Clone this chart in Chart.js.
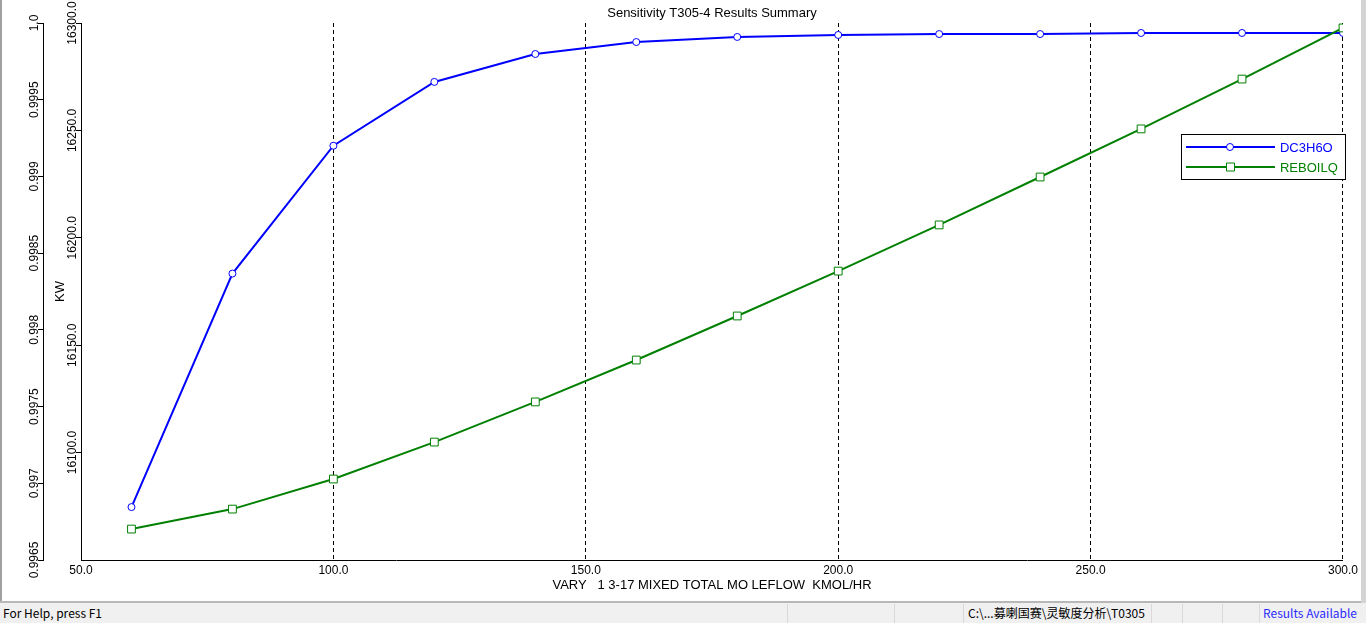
<!DOCTYPE html>
<html>
<head>
<meta charset="utf-8">
<script src="https://cdn.jsdelivr.net/npm/chart.js@4.4.0/dist/chart.umd.min.js"></script>
<style>
  html, body { margin: 0; padding: 0; width: 1366px; height: 623px; overflow: hidden; background: #f0f0f0; }
  #frame { position: absolute; left: 0; top: 0; width: 1361px; height: 601px; background: #fff; }
  #leftEdge { position: absolute; left: 0; top: 0; width: 2px; height: 602px; background: #a0a0a0; }
  #rightEdge { position: absolute; left: 1361px; top: 0; width: 5px; height: 603px; background: #d4d4d4; }
  #bottomEdge { position: absolute; left: 0; top: 601px; width: 1361px; height: 2px; background: #b8b8b8; }
  #status { position: absolute; left: 0; top: 603px; width: 1366px; height: 20px; background: #f0f0f0;
            font-family: "Noto Sans CJK SC", "Noto Sans", sans-serif; font-size: 12px; color: #000; }
  #status span { position: absolute; top: 1px; line-height: 18px; white-space: pre; }
  #status .sep { position: absolute; top: 1px; width: 1px; height: 19px; background: #d9d9d9; }
</style>
</head>
<body>
<div id="frame"><canvas id="chart" width="1361" height="601"></canvas></div>
<div id="leftEdge"></div>
<div id="rightEdge"></div>
<div id="bottomEdge"></div>
<div id="status">
  <span style="left:3px">For Help, press F1</span>
  <div class="sep" style="left:787px"></div>
  <div class="sep" style="left:894px"></div>
  <div class="sep" style="left:963px"></div>
  <span style="left:968px">C:\...募喇国赛\灵敏度分析\T0305</span>
  <div class="sep" style="left:1151px"></div>
  <div class="sep" style="left:1182px"></div>
  <div class="sep" style="left:1222px"></div>
  <div class="sep" style="left:1259px"></div>
  <span style="left:1263px; color:#2b2bff">Results Available</span>
</div>
<script>
/* DATA */
var flowValues   = [60, 80, 100, 120, 140, 160, 180, 200, 220, 240, 260, 280, 300];
var dc3h6oValues = [0.996845, 0.998367, 0.999200, 0.999616, 0.999798, 0.999876, 0.999909,
                    0.999922, 0.999928, 0.999928, 0.999935, 0.999935, 0.999935];
var reboilqValues = [16064.4, 16073.7, 16087.7, 16104.9, 16123.6, 16143.1, 16163.6,
                     16184.5, 16206.0, 16228.3, 16250.7, 16273.9, 16297.7];
var xTickValues  = [50, 100, 150, 200, 250, 300];
var xTickLabels  = ['50.0', '100.0', '150.0', '200.0', '250.0', '300.0'];
var y1TickValues = [0.9965, 0.997, 0.9975, 0.998, 0.9985, 0.999, 0.9995, 1.0];
var y1TickLabels = ['0.9965', '0.997', '0.9975', '0.998', '0.9985', '0.999', '0.9995', '1.0'];
var y2TickValues = [16100, 16150, 16200, 16250, 16300];
var y2TickLabels = ['16100.0', '16150.0', '16200.0', '16250.0', '16300.0'];

var FONT = "'Liberation Sans', Arial, sans-serif";
var BLUE = "#0000ff";
var GREEN = "#008000";
var TITLE = 'Sensitivity T305-4 Results Summary';

function toPoints(xs, ys){
  return xs.map(function(x, i){ return {x: x, y: ys[i]}; });
}
function setTicks(vals, labels){
  return function(scale){
    scale.ticks = vals.map(function(v, i){ return {value: v, label: labels[i]}; });
  };
}
function labelFrom(labels){
  return function(v, i){ return labels[i]; };
}

/* ROTATED Y TICK LABELS + TITLE OVER PLOT AREA */
var textPlugin = {
  id: 'extraText',
  afterDraw: function(chart){
    var ctx = chart.ctx;
    var area = chart.chartArea;
    ctx.save();
    ctx.fillStyle = "#000";
    ctx.textAlign = "center";
    ctx.textBaseline = "middle";
    ctx.font = "13px " + FONT;
    ctx.fillText(TITLE, (area.left + area.right) / 2, 13);
    ctx.font = "12px " + FONT;
    ['y1', 'y2'].forEach(function(id){
      var scale = chart.scales[id];
      scale.ticks.forEach(function(t){
        var y = scale.getPixelForValue(t.value);
        ctx.save();
        ctx.translate(scale.right - 8, y);
        ctx.rotate(-Math.PI / 2);
        ctx.fillText(t.label, 0, 0);
        ctx.restore();
      });
    });
    ctx.restore();
  }
};

/* LEGEND BOX */
var legendPlugin = {
  id: 'boxLegend',
  afterDraw: function(chart){
    var ctx = chart.ctx;
    var area = chart.chartArea;
    var bx = area.right - 162, by = 134, bw = 164, bh = 45;
    ctx.save();
    ctx.fillStyle = "#fff";
    ctx.fillRect(bx, by, bw, bh);
    ctx.strokeStyle = "#000";
    ctx.lineWidth = 1;
    ctx.strokeRect(bx + 0.5, by + 0.5, bw, bh);
    var rows = [chart.data.datasets[0], chart.data.datasets[1]];
    rows.forEach(function(ds, i){
      var y = by + 13 + i * 20;
      ctx.strokeStyle = ds.borderColor;
      ctx.lineWidth = 2;
      ctx.beginPath();
      ctx.moveTo(bx + 5, y);
      ctx.lineTo(bx + 94, y);
      ctx.stroke();
      ctx.lineWidth = 1;
      ctx.fillStyle = "#fff";
      ctx.beginPath();
      if (ds.pointStyle === 'rect') {
        ctx.rect(bx + 45.5, y - 4, 8, 8);
      } else {
        ctx.arc(bx + 49, y, 3.5, 0, Math.PI * 2);
      }
      ctx.fill();
      ctx.stroke();
      ctx.fillStyle = ds.borderColor;
      ctx.font = "13px " + FONT;
      ctx.textAlign = "left";
      ctx.textBaseline = "middle";
      ctx.fillText(ds.label, bx + 99, y + 1);
    });
    ctx.restore();
  }
};

new Chart(document.getElementById('chart'), {
  type: 'line',
  data: {
    datasets: [{
      label: 'DC3H6O',
      data: toPoints(flowValues, dc3h6oValues),
      yAxisID: 'y1',
      borderColor: BLUE,
      backgroundColor: "#fff",
      borderWidth: 2,
      pointStyle: 'circle',
      pointRadius: 3.5,
      pointBorderWidth: 1,
      tension: 0,
      order: 1
    }, {
      label: 'REBOILQ',
      data: toPoints(flowValues, reboilqValues),
      yAxisID: 'y2',
      borderColor: GREEN,
      backgroundColor: "#fff",
      borderWidth: 2,
      pointStyle: 'rect',
      pointRadius: 5.5,
      pointBorderWidth: 1,
      tension: 0,
      order: 0
    }]
  },
  options: {
    responsive: false,
    animation: false,
    devicePixelRatio: 1,
    layout: { padding: { top: 23, right: 18, bottom: 1 } },
    plugins: {
      legend: { display: false },
      tooltip: { enabled: false },
      title: { display: false }
    },
    scales: {
      x: {
        type: 'linear',
        min: 50, max: 300,
        afterBuildTicks: setTicks(xTickValues, xTickLabels),
        afterFit: function(s){ s.height = 40; },
        ticks: {
          color: '#000', padding: 3,
          font: { family: FONT, size: 12 },
          maxRotation: 0,
          callback: labelFrom(xTickLabels)
        },
        grid: { color: '#000', lineWidth: 1, drawTicks: false },
        border: { display: true, color: '#000', width: 1, dash: [4, 3] },
        title: {
          display: true,
          text: 'VARY   1 3-17 MIXED TOTAL MO LEFLOW  KMOL/HR',
          color: '#000',
          font: { family: FONT, size: 13 },
          padding: { top: 0, bottom: 7 }
        }
      },
      y1: {
        type: 'linear',
        position: 'left',
        weight: 1,
        min: 0.9965, max: 1.0,
        afterBuildTicks: setTicks(y1TickValues, y1TickLabels),
        afterFit: function(s){ s.width = 43; },
        ticks: { display: false, callback: labelFrom(y1TickLabels) },
        grid: { drawOnChartArea: false, drawTicks: true, tickLength: 5, tickColor: '#000' },
        border: { display: true, color: '#000', width: 1 }
      },
      y2: {
        type: 'linear',
        position: 'left',
        weight: 0,
        min: 16050, max: 16300,
        afterBuildTicks: setTicks(y2TickValues, y2TickLabels),
        afterFit: function(s){ s.width = 38; },
        ticks: { display: false, callback: labelFrom(y2TickLabels) },
        grid: { drawOnChartArea: false, drawTicks: true, tickLength: 5, tickColor: '#000' },
        border: { display: true, color: '#000', width: 1 },
        title: {
          display: true,
          text: 'KW',
          color: '#000',
          font: { family: FONT, size: 13 },
          padding: { top: 10, bottom: 0 }
        }
      }
    }
  },
  plugins: [textPlugin, legendPlugin]
});
</script>
</body>
</html>
